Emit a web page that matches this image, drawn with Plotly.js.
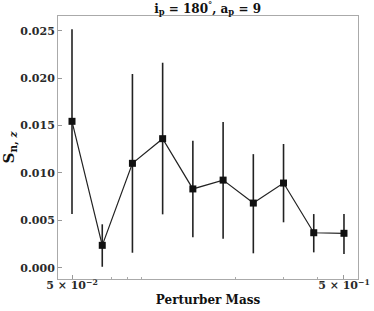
<!DOCTYPE html>
<html>
<head>
<meta charset="utf-8">
<script src="https://cdn.plot.ly/plotly-3.0.1.min.js"></script>
<style>html,body{margin:0;padding:0;background:#fff;}#chart{width:374px;height:311px;}</style>
</head>
<body>
<div id="chart"></div>
<script>
// Data
const perturberMass = [0.05, 0.0646, 0.0834, 0.1077, 0.1391, 0.1797, 0.2321, 0.2997, 0.3871, 0.5];
const snz = [0.01544, 0.00236, 0.01101, 0.01361, 0.00831, 0.00924, 0.00682, 0.00893, 0.00369, 0.00363];
const errUpper = [0.02515, 0.00458, 0.02043, 0.02162, 0.01340, 0.01537, 0.01198, 0.01305, 0.00566, 0.00566];
const errLower = [0.00566, 0.00010, 0.00158, 0.00563, 0.00321, 0.00306, 0.00152, 0.00479, 0.00162, 0.00145];
const xTickVals = [0.05, 0.5];
const xTickText = ["5 × 10<sup>−2</sup>", "5 × 10<sup>−1</sup>"];
const xMinorVals = [0.07, 0.08, 0.09, 0.2, 0.3, 0.4];
const yTickVals = [0, 0.005, 0.01, 0.015, 0.02, 0.025];
const yTickText = ["0.000", "0.005", "0.010", "0.015", "0.020", "0.025"];

const plus = snz.map((v, i) => errUpper[i] - v);
const minus = snz.map((v, i) => v - errLower[i]);

const font = {family: "DejaVu Serif", size: 11, color: "#2a2a2a", weight: "bold"};

const trace = {
  x: perturberMass,
  y: snz,
  type: "scatter",
  mode: "lines+markers",
  line: {color: "#222222", width: 1.2},
  marker: {symbol: "square", size: 7, color: "#111111"},
  error_y: {type: "data", symmetric: false, array: plus, arrayminus: minus,
            color: "#222222", thickness: 1.6, width: 0},
  hoverinfo: "none"
};

const layout = {
  width: 374, height: 311,
  margin: {l: 58, r: 16, t: 16, b: 32},
  paper_bgcolor: "#ffffff", plot_bgcolor: "#ffffff",
  font: font,
  showlegend: false,
  title: {text: "i<sub>p</sub> = 180<sup>°</sup>, a<sub>p</sub> = 9",
          font: {family: "DejaVu Serif", size: 12, color: "#111", weight: "bold"},
          x: 0.555, xanchor: "center", y: 0.972, yanchor: "middle", yref: "container"},
  xaxis: {
    type: "log",
    range: [-1.3525, -0.2495],
    tickmode: "array", tickvals: xTickVals, ticktext: xTickText,
    ticks: "inside", ticklen: 4, tickcolor: "#999", tickwidth: 1,
    ticklabelstandoff: -4,
    minor: {tickmode: "array", tickvals: xMinorVals, ticks: "inside", ticklen: 2.5, tickcolor: "#aaa", tickwidth: 1, showgrid: false},
    showgrid: false, zeroline: false,
    showline: true, mirror: true, linecolor: "#aaaaaa", linewidth: 1,
    tickfont: {family: "DejaVu Serif", size: 11, color: "#2a2a2a", weight: "bold"},
    title: {text: "Perturber Mass", font: {family: "DejaVu Serif", size: 12, color: "#111", weight: "bold"}, standoff: 4}
  },
  yaxis: {
    range: [-0.00119, 0.02655],
    tickmode: "array", tickvals: yTickVals, ticktext: yTickText,
    ticks: "inside", ticklen: 4, tickcolor: "#999", tickwidth: 1,
    showgrid: false, zeroline: false,
    showline: true, mirror: true, linecolor: "#aaaaaa", linewidth: 1,
    tickfont: {family: "DejaVu Serif", size: 11, color: "#2a2a2a", weight: "bold"},
    title: {text: "S<sub>n, <i>z</i></sub>", font: {family: "DejaVu Serif", size: 15, color: "#111", weight: "bold"}, standoff: 3}
  }
};

Plotly.newPlot("chart", [trace], layout, {staticPlot: true, displayModeBar: false});
</script>
</body>
</html>
